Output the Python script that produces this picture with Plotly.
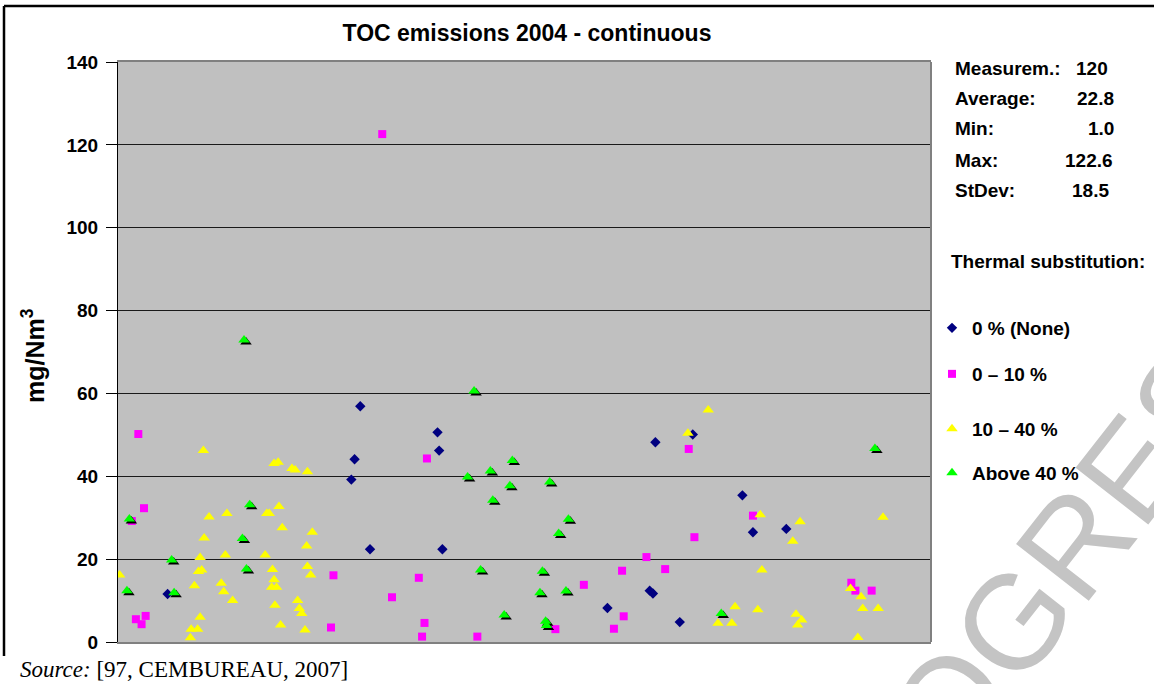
import plotly.graph_objects as go

# ---------------- data ----------------
none_x = [6.1, 28.7, 29.1, 29.8, 31.0, 39.3, 39.5, 39.9, 60.2, 65.4, 65.8, 66.1, 69.1, 70.7, 76.8, 78.1, 82.2]
none_y = [11.6, 39.2, 44.1, 56.9, 22.4, 50.6, 46.2, 22.4, 8.2, 12.4, 11.7, 48.2, 4.8, 50.1, 35.4, 26.5, 27.3]

low_x = [1.7, 2.2, 2.5, 2.9, 3.2, 3.4, 26.2, 26.5, 32.5, 33.7, 37.0, 37.4, 37.7, 38.0, 44.2, 53.8, 57.3,
         61.0, 62.0, 62.2, 65.0, 67.3, 70.2, 70.9, 78.1, 90.2, 90.7, 92.7]
low_y = [29.2, 5.5, 50.2, 4.3, 32.3, 6.3, 3.5, 16.1, 122.6, 10.8, 15.5, 1.3, 4.6, 44.3, 1.3, 3.1, 13.8,
         3.2, 17.2, 6.2, 20.5, 17.6, 46.6, 25.3, 30.5, 14.3, 12.4, 12.4]

mid_x = [0.2, 8.9, 9.0, 9.4, 9.8, 9.9, 10.1, 10.1, 10.3, 10.5, 10.6, 11.2, 12.7, 13.0, 13.2, 13.4, 14.1,
         18.1, 18.3, 18.6, 18.9, 19.0, 19.2, 19.2, 19.3, 19.5, 19.7, 19.8, 20.0, 20.2, 21.4, 21.8, 22.1,
         22.3, 22.6, 23.0, 23.2, 23.3, 23.3, 23.7, 23.9, 70.1, 72.6, 73.8, 75.5, 75.9, 78.7, 79.0, 79.2,
         83.0, 83.4, 83.6, 83.9, 84.1, 90.1, 91.0, 91.4, 91.6, 93.5, 94.1]
mid_y = [16.2, 1.0, 3.1, 13.6, 3.1, 17.0, 20.4, 6.0, 17.4, 46.2, 25.1, 30.2, 14.2, 12.1, 21.0, 31.0, 10.0,
         21.0, 31.0, 31.0, 13.2, 17.5, 43.1, 15.0, 8.9, 13.2, 43.4, 32.7, 4.1, 27.6, 41.9, 41.5, 10.0,
         8.1, 6.9, 2.9, 23.2, 41.1, 18.2, 16.2, 26.5, 50.4, 56.0, 4.5, 4.5, 8.5, 7.8, 30.7, 17.4,
         24.3, 6.7, 4.1, 29.0, 5.3, 12.9, 1.1, 10.9, 8.1, 8.1, 30.1]

high_x = [1.1, 1.4, 6.6, 6.9, 15.3, 15.5, 15.8, 16.2, 43.0, 43.8, 44.6, 45.8, 46.1, 47.5, 48.2, 48.5,
          51.9, 52.2, 52.6, 52.7, 53.1, 54.2, 55.1, 55.4, 74.2, 93.1]
high_y = [12.4, 29.7, 19.8, 11.9, 25.0, 72.9, 17.6, 33.1, 39.8, 60.6, 17.4, 41.3, 34.2, 6.5, 37.7, 43.8,
          11.9, 17.1, 5.0, 4.0, 38.6, 26.2, 12.3, 29.6, 6.9, 46.7]

series_names = ["0 % (None)", "0 \u2013 10 %", "10 \u2013 40 %", "Above 40 %"]
y_ticks = [0, 20, 40, 60, 80, 100, 120, 140]
stat_labels = ["Measurem.:", "Average:", "Min:", "Max:", "StDev:"]
stat_values = ["120", "22.8", "1.0", "122.6", "18.5"]

# ---------------- geometry ----------------
W, H = 1154, 684
ML, MR, MT, MB = 118, 223, 62, 42
PW, PH = W - ML - MR, H - MT - MB
X_RANGE = [0, 100]
Y_RANGE = [0, 140]


def XP(px):
    return (px - ML) / PW


def YP(py):
    return (H - MB - py) / PH


FONT = "Liberation Sans, Arial, sans-serif"
BOLD = dict(family=FONT, color="black", weight="bold")

# shadow offset for the green triangles (2 px right, 2 px down)
sdx = 2 * (X_RANGE[1] - X_RANGE[0]) / PW
sdy = 2 * (Y_RANGE[1] - Y_RANGE[0]) / PH

fig = go.Figure()
fig.add_trace(go.Scatter(x=none_x, y=none_y, mode="markers", name=series_names[0], legend="legend",
                         marker=dict(symbol="diamond", size=8, color="#000080", line=dict(width=0))))
fig.add_trace(go.Scatter(x=low_x, y=low_y, mode="markers", name=series_names[1], legend="legend2",
                         marker=dict(symbol="square", size=8, color="#FF00FF", line=dict(width=0))))
fig.add_trace(go.Scatter(x=mid_x, y=mid_y, mode="markers", name=series_names[2], legend="legend3",
                         marker=dict(symbol="triangle-up", size=10, color="#FFFF00", line=dict(width=0))))
fig.add_trace(go.Scatter(x=[v + sdx for v in high_x], y=[v - sdy for v in high_y], mode="markers",
                         showlegend=False, hoverinfo="skip",
                         marker=dict(symbol="triangle-up", size=10, color="#000000", line=dict(width=0))))
fig.add_trace(go.Scatter(x=high_x, y=high_y, mode="markers", name=series_names[3], legend="legend4",
                         marker=dict(symbol="triangle-up", size=10, color="#00FF00", line=dict(width=0))))


def leg(py):
    return dict(x=XP(932), y=YP(py), xanchor="left", yanchor="middle", bgcolor="rgba(0,0,0,0)",
                borderwidth=0, itemsizing="trace", font=dict(size=19, **BOLD))


annotations = []
# stats block
stat_rows = [68, 99, 129, 160, 190]
value_right = [1110, 1116, 1116, 1115, 1111]
for lab, val, ry, vr in zip(stat_labels, stat_values, stat_rows, value_right):
    annotations.append(dict(text=lab, xref="paper", yref="paper", x=XP(953), y=YP(ry),
                            xanchor="left", yanchor="middle", showarrow=False, font=dict(size=19, **BOLD)))
    annotations.append(dict(text=val, xref="paper", yref="paper", x=XP(vr), y=YP(ry),
                            xanchor="right", yanchor="middle", showarrow=False, font=dict(size=19, **BOLD)))
annotations.append(dict(text="Thermal substitution:", xref="paper", yref="paper", x=XP(949), y=YP(261),
                        xanchor="left", yanchor="middle", showarrow=False, font=dict(size=19, **BOLD)))
# y axis title
annotations.append(dict(text="mg/Nm<sup>3</sup>", xref="paper", yref="paper", x=XP(33), y=YP(356),
                        xanchor="center", yanchor="middle", textangle=-90, showarrow=False,
                        font=dict(size=25, **BOLD)))
# source
annotations.append(dict(text="<i>Source:</i> [97, CEMBUREAU, 2007]", xref="paper", yref="paper",
                        x=XP(18), y=YP(669), xanchor="left", yanchor="middle", showarrow=False,
                        font=dict(family="Liberation Serif, Times New Roman, serif", size=23, color="black")))
# watermark
annotations.append(dict(text="PROGRESS", xref="paper", yref="paper", x=XP(1036), y=YP(592),
                        xanchor="center", yanchor="middle", textangle=-52, showarrow=False,
                        font=dict(family=FONT, size=134, color="#c4c4c4")))

shapes = [
    # outer frame (top and left)
    dict(type="line", xref="paper", yref="paper", x0=XP(4), x1=XP(W + 5), y0=YP(6), y1=YP(6),
         line=dict(color="black", width=2.5)),
    dict(type="line", xref="paper", yref="paper", x0=XP(4), x1=XP(4), y0=YP(6), y1=YP(656),
         line=dict(color="black", width=2.5)),
    # right border of the plot area
    dict(type="line", xref="paper", yref="paper", x0=1, x1=1, y0=0, y1=1,
         line=dict(color="#808080", width=2)),
]

fig.update_layout(
    width=W, height=H,
    margin=dict(l=ML, r=MR, t=MT, b=MB, autoexpand=False),
    paper_bgcolor="white", plot_bgcolor="#C0C0C0",
    title=dict(text="TOC emissions 2004 - continuous", x=XP(527), xanchor="center",
               xref="paper", yref="container", y=1 - 33 / H, yanchor="middle",
               font=dict(size=23, **BOLD)),
    xaxis=dict(range=X_RANGE, showticklabels=False, ticks="", showgrid=False, zeroline=False,
               showline=True, linecolor="#808080", linewidth=2, mirror=True, fixedrange=True),
    yaxis=dict(range=Y_RANGE, tickvals=y_ticks, ticks="outside", ticklen=11, tickcolor="black",
               tickwidth=1, ticklabelstandoff=4, showgrid=True, gridcolor="#1a1a1a", gridwidth=1,
               zeroline=False, showline=True, linecolor="black", linewidth=1,
               tickfont=dict(size=19, **BOLD), fixedrange=True),
    legend=leg(328), legend2=leg(374), legend3=leg(429), legend4=leg(473),
    annotations=annotations, shapes=shapes,
)

fig.write_html("out.html", config={"displayModeBar": False},
               post_script="document.body.style.margin='0';document.body.style.padding='0';"
                           "document.body.style.overflow='hidden';")
